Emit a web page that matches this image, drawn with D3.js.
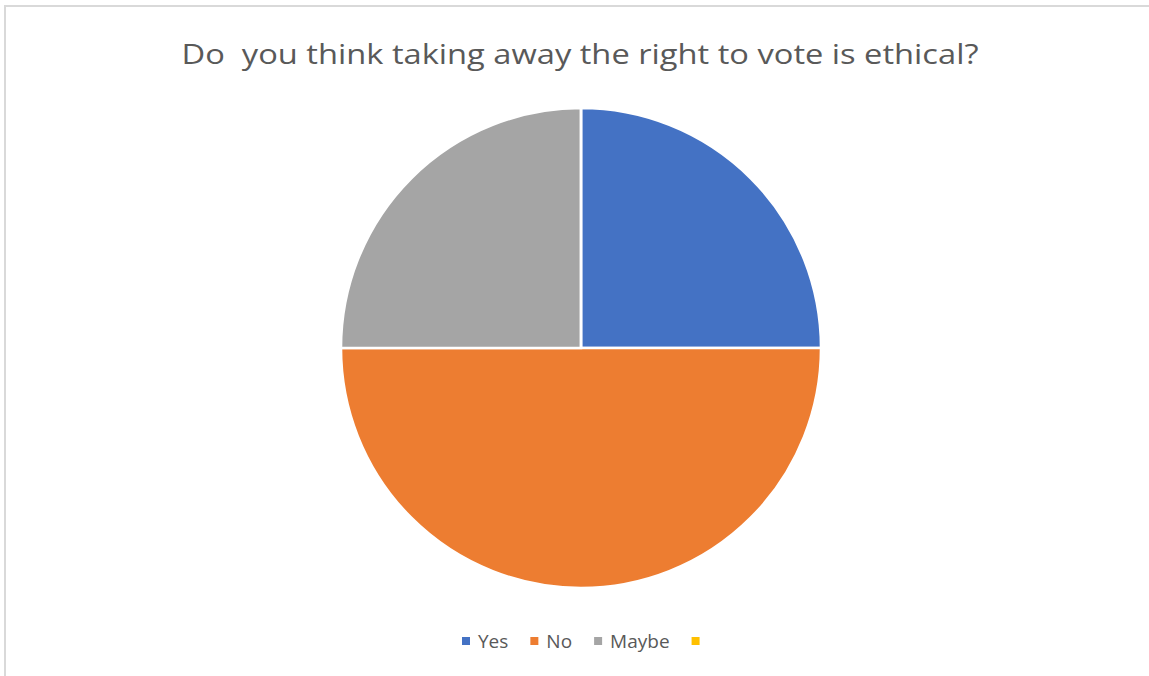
<!DOCTYPE html>
<html lang="en">
<head>
<meta charset="UTF-8">
<title>Right to vote pie</title>
<script src="https://cdn.jsdelivr.net/npm/d3@7"></script>
<style>
    body { margin: 0; background: #fff; }
    svg text { font-family: "Open Sans", "Liberation Sans", sans-serif; fill: #595959; white-space: pre; }
</style>
</head>
<body>
<svg id="chart" width="1149" height="676"></svg>
<script>
    // data
    let categories = ['Yes', 'No', 'Maybe', '']
    let answers = [1, 2, 1, 0]
    let colours = ['#4472c4', '#ed7d31', '#a5a5a5', '#ffc000']
    let chartTitle = 'Do  you think taking away the right to vote is ethical?'

    let svg = d3.select('#chart')

    // frame (only top + left edge visible in the screenshot)
    svg.append('path')
        .attr('d', 'M5,676 V6 H1149')
        .attr('fill', 'none')
        .attr('stroke', '#d9d9d9')
        .attr('stroke-width', 2)

    // title
    let title = svg.append('text')
        .attr('x', 580)
        .attr('y', 64)
        .attr('text-anchor', 'middle')
        .style('font-size', '27px')
        .text(chartTitle)
    let tw = title.node().getComputedTextLength()
    if (Math.abs(tw - 797) > 4) {
        title.attr('textLength', 797).attr('lengthAdjust', 'spacingAndGlyphs')
    }

    // pie
    let cx = 581, cy = 348, r = 240
    let pie = d3.pie().sort(null).value(d => d)
    let arc = d3.arc().innerRadius(0).outerRadius(r)
    let colour = d3.scaleOrdinal().domain(categories).range(colours)

    svg.append('g')
        .attr('transform', `translate(${cx},${cy})`)
        .selectAll('path')
        .data(pie(answers))
        .join('path')
        .attr('d', arc)
        .attr('fill', (d, i) => colour(categories[i]))
        .attr('stroke', '#fff')
        .attr('stroke-width', 2.5)

    // legend
    let legend = svg.append('g')
    let lx = 462, ly = 641
    categories.forEach(function (c, i) {
        legend.append('rect')
            .attr('x', lx)
            .attr('y', ly - 4)
            .attr('width', 8)
            .attr('height', 8)
            .attr('fill', colour(c))
        let t = legend.append('text')
            .attr('x', lx + 16)
            .attr('y', ly + 7)
            .style('font-size', '19px')
            .text(c)
        let w = c ? t.node().getComputedTextLength() : 0
        lx += 16 + w + 22
    })
</script>
</body>
</html>
